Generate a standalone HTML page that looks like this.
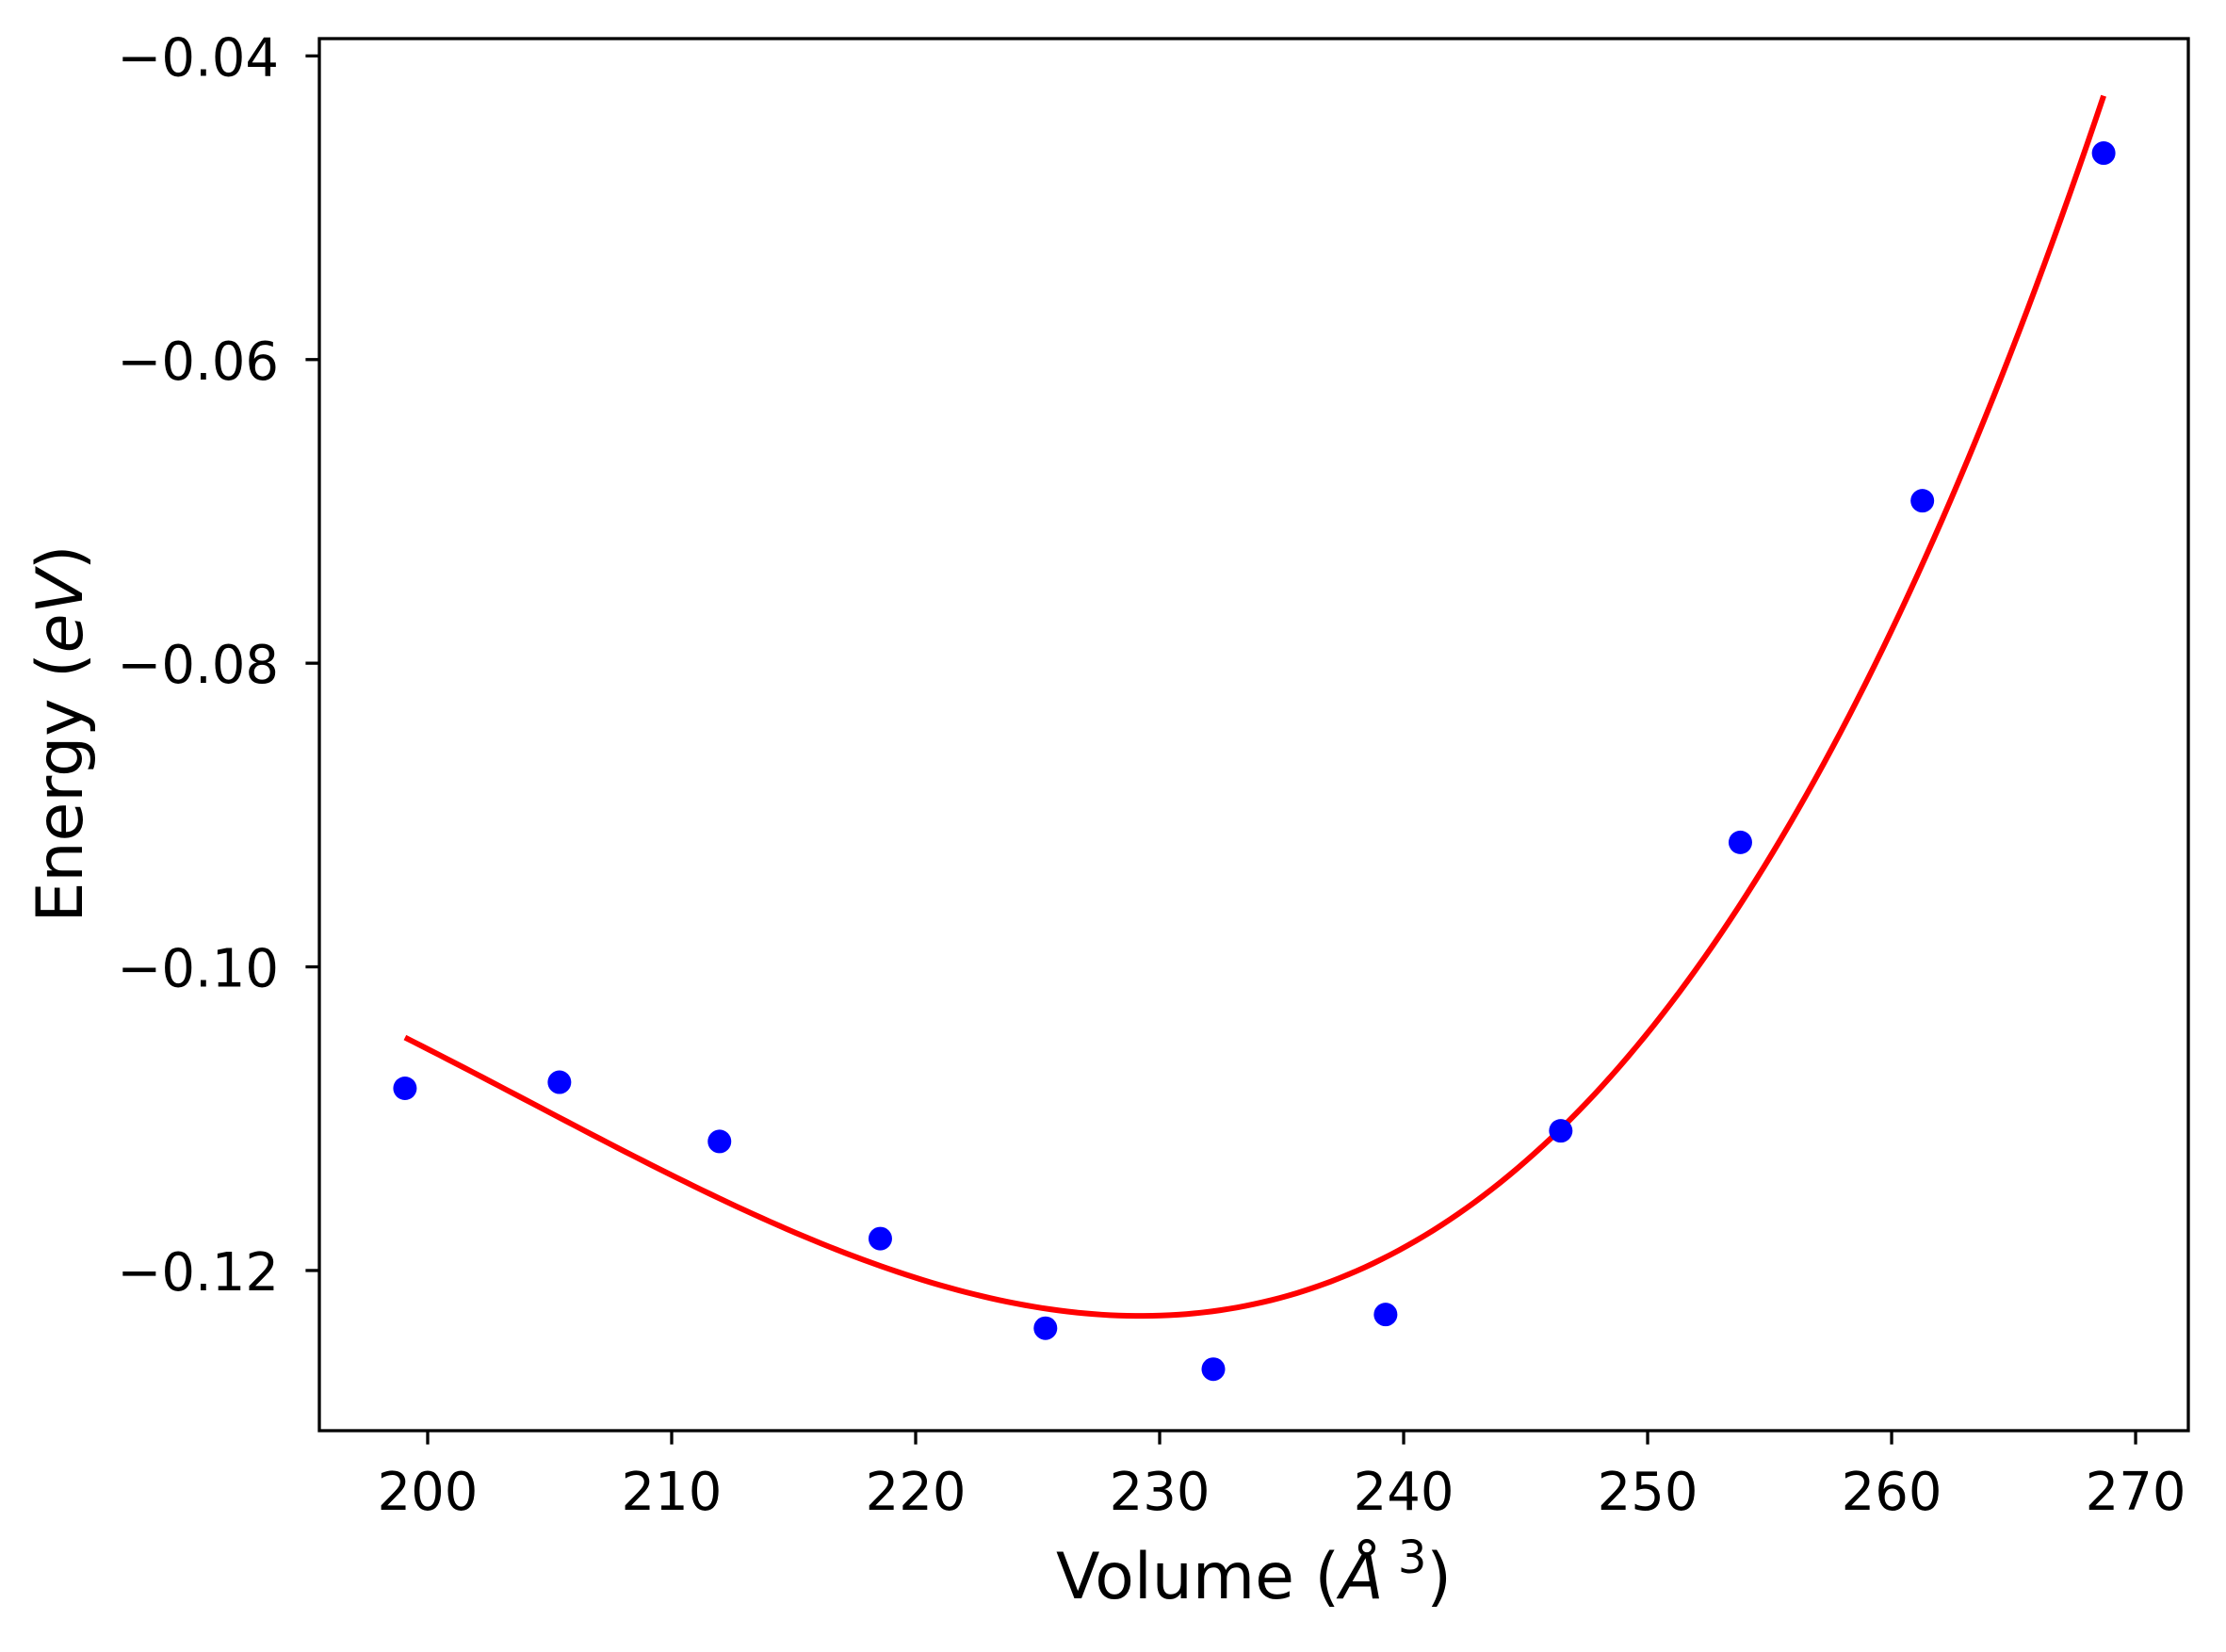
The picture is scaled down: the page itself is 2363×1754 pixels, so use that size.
<!DOCTYPE html>
<html><head><meta charset="utf-8"><style>
html,body{margin:0;padding:0;background:#fff;}
svg text{font-family:"DejaVu Sans","Liberation Sans",sans-serif;fill:#000;}
</style></head><body>
<svg id="chart" width="2363" height="1749" viewBox="0 0 2363 1749" xmlns="http://www.w3.org/2000/svg">
<rect width="2363" height="1749" fill="#fff"/>
<g id="plot"></g>
<text x="1331" y="1697" font-size="68" text-anchor="middle">Volume (<tspan font-style="italic">Å</tspan><tspan font-size="48" dy="-27"> 3</tspan><tspan dy="27">)</tspan></text>
<text x="0" y="0" font-size="68" text-anchor="middle" transform="translate(87,779) rotate(-90)">Energy (<tspan font-style="italic">eV</tspan>)</text>
</svg>
<script>
const pointVolumes=[199.07,205.4,211.96,218.55,225.32,232.2,239.26,246.44,253.8,261.26,268.69];
const pointEnergies=[-0.1080,-0.1076,-0.1115,-0.1179,-0.1238,-0.1265,-0.1229,-0.1108,-0.0918,-0.0693,-0.0464];
const fitDegree=[3];
const xTicks=[200,210,220,230,240,250,260,270];
const yTicks=[-0.04,-0.06,-0.08,-0.10,-0.12];
const yTickLabels=["\u22120.04","\u22120.06","\u22120.08","\u22120.10","\u22120.12"];

const L=339,R=2323,T=41,B=1519;
const xMin=195.56,xMax=272.16,yMin=-0.13055,yMax=-0.03886;
const sx=v=>L+(v-xMin)/(xMax-xMin)*(R-L);
const sy=v=>B-(v-yMin)/(yMax-yMin)*(B-T);
const NS="http://www.w3.org/2000/svg";
const g=document.getElementById('plot');
function mk(tag,attrs){const e=document.createElementNS(NS,tag);for(const k in attrs)e.setAttribute(k,attrs[k]);g.appendChild(e);return e;}

// least-squares polynomial fit of the data points
function polyfit(xs,ys,deg){
  const n=deg+1, xc=xs.reduce((a,b)=>a+b,0)/xs.length;
  const A=[];for(let i=0;i<n;i++){A.push(new Array(n+1).fill(0));}
  xs.forEach((x0,k)=>{const x=x0-xc;for(let i=0;i<n;i++){for(let j=0;j<n;j++)A[i][j]+=Math.pow(x,i+j);A[i][n]+=ys[k]*Math.pow(x,i);}});
  for(let i=0;i<n;i++){let p=i;for(let r=i+1;r<n;r++)if(Math.abs(A[r][i])>Math.abs(A[p][i]))p=r;[A[i],A[p]]=[A[p],A[i]];
    for(let r=0;r<n;r++){if(r===i)continue;const f=A[r][i]/A[i][i];for(let c=i;c<=n;c++)A[r][c]-=f*A[i][c];}}
  const co=A.map((row,i)=>row[n]/row[i]);
  return x=>co.reduce((s,c,i)=>s+c*Math.pow(x-xc,i),0);
}
const f=polyfit(pointVolumes,pointEnergies,fitDegree[0]);
const v0=Math.min(...pointVolumes),v1=Math.max(...pointVolumes);
let d='';
for(let i=0;i<=200;i++){const v=v0+(v1-v0)*i/200;d+=(i?' L':'M')+sx(v).toFixed(2)+','+sy(f(v)).toFixed(2);}
const fit=mk('path',{d:d,fill:'none',stroke:'#ff0000','stroke-width':6});



pointVolumes.forEach((v,i)=>{
  const c=mk('circle',{cx:sx(v),cy:sy(pointEnergies[i]),r:12.5,fill:'#0000ff'});
  
  
});

const frame=mk('rect',{x:L,y:T,width:R-L,height:B-T,fill:'none',stroke:'#000','stroke-width':3.3});



xTicks.forEach(t=>{
  const x=sx(t);
  const tk=mk('line',{x1:x,x2:x,y1:B,y2:B+14.6,stroke:'#000','stroke-width':3.3});
  
  
  const tx=mk('text',{x:x,y:1603,'font-size':56,'text-anchor':'middle'});
  tx.textContent=String(t);
  
  
});
yTicks.forEach((t,i)=>{
  const y=sy(t);
  const tk=mk('line',{x1:L-14.6,x2:L,y1:y,y2:y,stroke:'#000','stroke-width':3.3});
  
  
  const tx=mk('text',{x:296,y:y+21,'font-size':56,'text-anchor':'end'});
  tx.textContent=yTickLabels[i];
  
  
});
</script>
</body></html>
